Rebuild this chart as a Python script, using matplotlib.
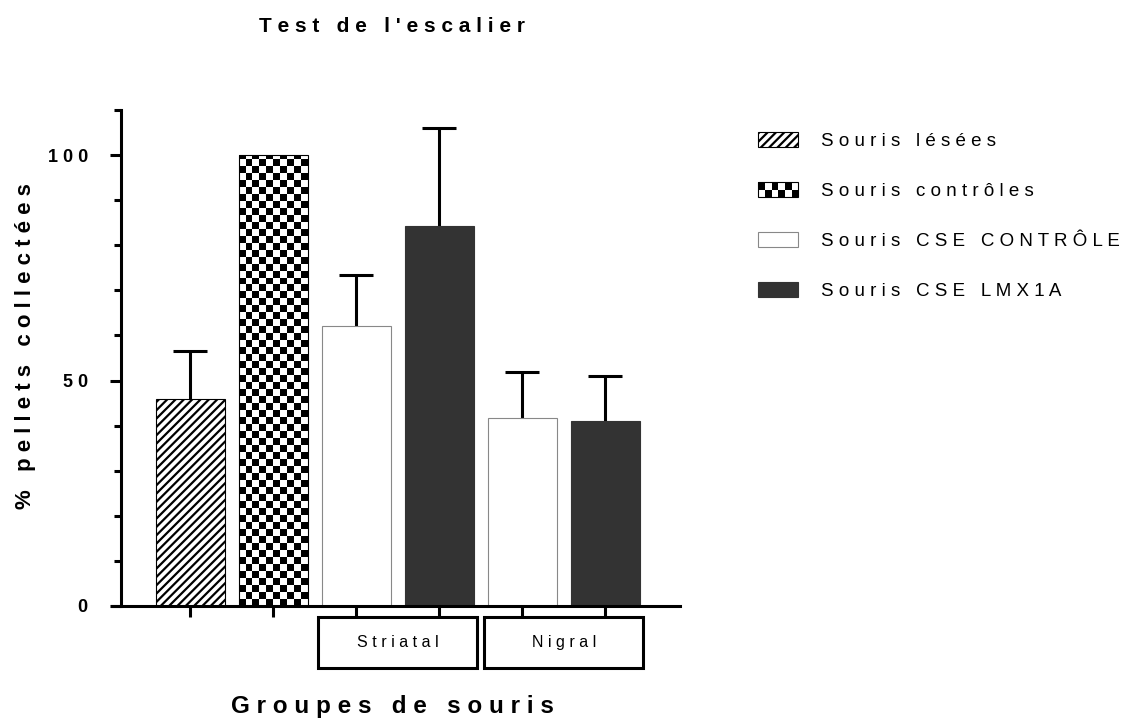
import matplotlib
matplotlib.use('Agg')
import matplotlib.pyplot as plt
import numpy as np
from matplotlib.patches import Rectangle
from matplotlib.collections import PatchCollection
from matplotlib.legend_handler import HandlerBase

plt.rcParams['font.family'] = ['Liberation Sans', 'DejaVu Sans']
plt.rcParams['hatch.linewidth'] = 1.6

# data
groups = ['Souris lésées', 'Souris contrôles', 'Souris CSE CONTRÔLE', 'Souris CSE LMX1A']
values = [45.8, 100.0, 62.0, 84.2, 41.7, 41.1]
errors = [10.7, 0.0, 11.4, 21.8, 10.3, 9.8]
bar_group = [0, 1, 2, 3, 2, 3]
sites = ['Striatal', 'Nigral']
site_bars = [(2, 3), (4, 5)]
title = "Test de l'escalier"
xlabel = 'Groupes de souris'
ylabel = '% pellets collectées'


def spaced(s):
    return ' '.join(s)


faces = ['white', 'white', 'white', '#333333']
edges = ['black', 'black', '#888888', '#333333']
hatches = ['////', None, None, None]

fig = plt.figure(figsize=(11.44, 7.26), dpi=100)
ax = fig.add_axes([0.0979, 0.1653, 0.4965, 0.6832])

x = np.arange(len(values))
bars = []
for i, v in enumerate(values):
    g = bar_group[i]
    b = ax.bar(x[i], v, width=0.83, color=faces[g], edgecolor=edges[g],
               hatch=hatches[g], linewidth=0.8, zorder=2)[0]
    bars.append(b)

# checkerboard fill for the control bar
for i, b in enumerate(bars):
    if bar_group[i] == 1:
        nx = 10
        cw = b.get_width() / nx
        ch = 1.55
        ny = int(np.ceil(b.get_height() / ch))
        cells = []
        for r in range(ny):
            for c in range(nx):
                if (r + c) % 2 == 0:
                    cells.append(Rectangle((b.get_x() + c * cw, r * ch), cw, ch))
        pc = PatchCollection(cells, facecolor='black', edgecolor='none', zorder=2.5)
        ax.add_collection(pc)
        pc.set_clip_path(b)

# upper error bars only
m = np.array(errors) > 0
eb = ax.errorbar(x[m], np.array(values)[m], yerr=[np.zeros(m.sum()), np.array(errors)[m]],
                 fmt='none', ecolor='black', elinewidth=2.2, capsize=12, capthick=2.2, zorder=1)
for cl in eb[1]:
    if np.allclose(cl.get_ydata(), np.array(values)[m]):
        cl.set_visible(False)

ax.set_xlim(-0.94, 5.9)
ax.set_ylim(0, 110)
ax.spines['top'].set_visible(False)
ax.spines['right'].set_visible(False)
ax.spines['left'].set_position(('data', -0.83))
for s in ['left', 'bottom']:
    ax.spines[s].set_linewidth(2.2)

ax.set_yticks([0, 50, 100])
ax.set_yticklabels([spaced(str(t)) for t in [0, 50, 100]], fontsize=13, fontweight='bold')
ax.set_yticks(np.arange(0, 111, 10), minor=True)
ax.tick_params(axis='y', which='major', length=8, width=2.2, pad=16)
ax.tick_params(axis='y', which='minor', length=5, width=2.2)
ax.set_xticks(x)
ax.set_xticklabels([])
ax.tick_params(axis='x', length=8, width=2.2)

# site boxes below the axis
for (a, b2), name in zip(site_bars, sites):
    cx = (a + b2) / 2
    ax.add_patch(Rectangle((cx - 0.96, -13.8), 1.92, 11.3, facecolor='white',
                           edgecolor='black', linewidth=2.2, clip_on=False))
    ax.text(cx, -8.15, spaced(name), ha='center', va='center', fontsize=11.5)

fig.text(0.343, 0.963, spaced(title), ha='center', va='center', fontsize=15, fontweight='bold')
fig.text(0.343, 0.027, spaced(xlabel), ha='center', va='center', fontsize=17.5, fontweight='bold')
fig.text(0.022, 0.523, spaced(ylabel), ha='center', va='center', rotation=90,
         fontsize=16, fontweight='bold')


class CheckerHandler(HandlerBase):
    def create_artists(self, legend, orig, xd, yd, w, h, fontsize, trans):
        arts = [Rectangle((-xd, -yd), w, h, facecolor='white', edgecolor='black',
                          linewidth=0.8, transform=trans)]
        nx, ny = 6, 2
        for i in range(nx):
            for j in range(ny):
                if (i + j) % 2 == 1:
                    arts.append(Rectangle((-xd + i * w / nx, -yd + j * h / ny), w / nx, h / ny,
                                          facecolor='black', edgecolor='none', transform=trans))
        return arts


handles = []
for g in range(4):
    handles.append(Rectangle((0, 0), 1, 1, facecolor=faces[g], edgecolor=edges[g],
                             hatch=hatches[g], linewidth=0.8))
hm = {handles[1]: CheckerHandler()}
fig.legend(handles, [spaced(t) for t in groups], handler_map=hm, loc='upper left',
           bbox_to_anchor=(0.648, 0.841), frameon=False, fontsize=13.5,
           handlelength=2.15, handleheight=0.85, labelspacing=1.7, handletextpad=1.2)

fig.savefig('out.png', dpi=100)
